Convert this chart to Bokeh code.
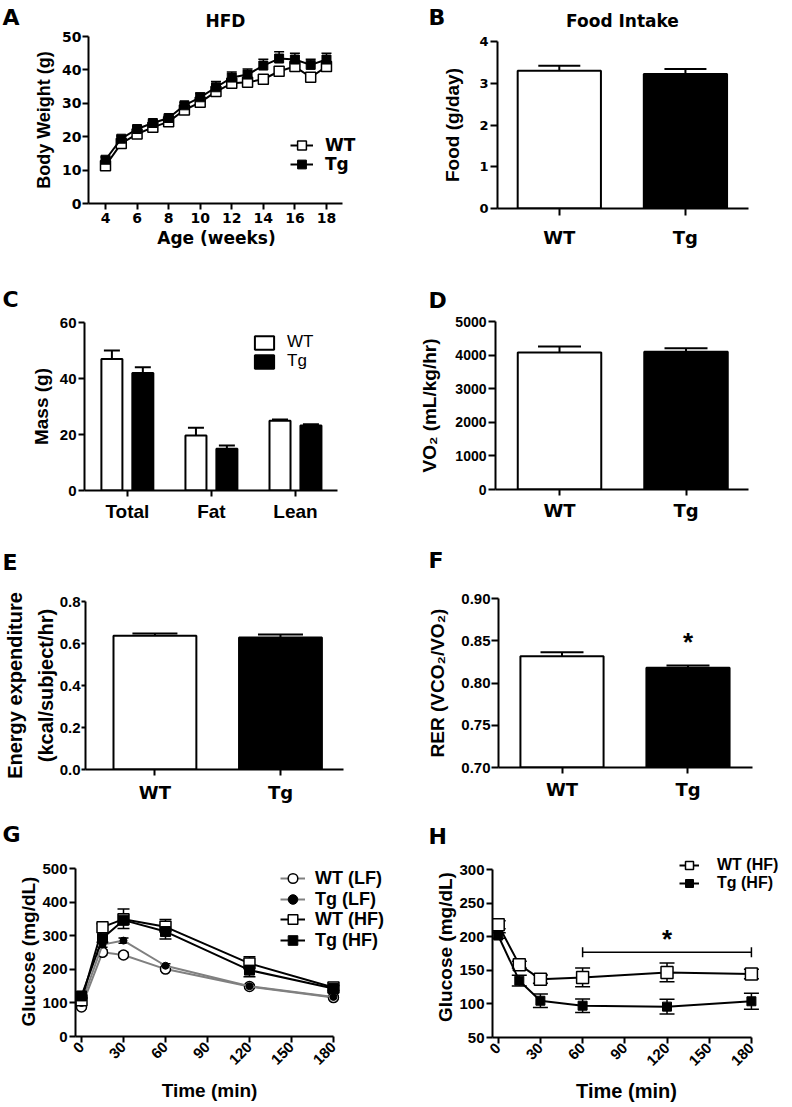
import math
import numpy as np
from bokeh.plotting import figure
from bokeh.layouts import column, row
from bokeh.models import (Range1d, Label, Legend, LegendItem, Whisker, TeeHead,
                          ColumnDataSource, FixedTicker, NumeralTickFormatter)
from bokeh.embed import file_html
from bokeh.resources import INLINE

LIB = "Liberation Sans"
DJV = "DejaVu Sans"

# ---------------- data ----------------
# A: body weight on HFD
ages = list(range(4, 19))
wt_bw = [11.3, 18.0, 20.8, 22.8, 24.5, 28.0, 30.3, 33.5, 36.0, 36.3, 37.2, 39.6, 41.0, 37.8, 41.0]
wt_bw_err = [0.8, 0.8, 0.8, 0.8, 0.8, 0.8, 0.8, 0.8, 0.7, 0.7, 1.5, 1.5, 0.7, 1.0, 0.7]
tg_bw = [13.1, 19.4, 22.3, 24.1, 25.6, 29.4, 31.8, 34.8, 37.7, 38.6, 41.3, 43.4, 43.1, 41.5, 43.1]
tg_bw_err = [0.8, 0.8, 0.8, 0.8, 0.8, 0.8, 1.3, 1.7, 1.7, 1.7, 1.9, 2.0, 1.9, 1.7, 1.9]

# B: food intake
genotypes = ["WT", "Tg"]
food = [3.30, 3.22]
food_err = [0.12, 0.12]

# C: body composition
comp_groups = ["Total", "Fat", "Lean"]
wt_mass = [47.0, 19.6, 24.9]
wt_mass_err = [3.0, 2.8, 0.5]
tg_mass = [42.0, 14.9, 23.2]
tg_mass_err = [2.0, 1.2, 0.5]

# D: VO2
vo2 = [4080, 4100]
vo2_err = [175, 105]

# E: energy expenditure
ee = [0.637, 0.629]
ee_err = [0.011, 0.014]

# F: RER
rer = [0.8317, 0.8180]
rer_err = [0.0048, 0.0027]

# G: GTT
time_g = [0, 15, 30, 60, 120, 180]
wt_lf = [88, 251, 243, 201, 149, 116]
wt_lf_err = [5, 8, 8, 6, 5, 5]
tg_lf = [100, 274, 286, 211, 150, 118]
tg_lf_err = [5, 8, 8, 6, 5, 5]
wt_hf = [108, 326, 350, 327, 218, 146]
wt_hf_err = [8, 10, 30, 22, 20, 6]
tg_hf = [121, 293, 347, 313, 198, 143]
tg_hf_err = [8, 12, 25, 22, 20, 6]

# H: ITT
time_h = [0, 15, 30, 60, 120, 180]
wt_itt = [218, 158.6, 137, 139.6, 147, 144.7]
wt_itt_err = [6, 5, 6, 14, 14, 7]
tg_itt = [202, 134.7, 104.8, 97.4, 96, 104]
tg_itt_err = [4, 8, 10, 10, 11, 12]
sig_start, sig_end, sig_level = 60, 180, 177


# ---------------- helpers ----------------
def no_align(p):
    if "frame_align" in p.properties():
        p.frame_align = False


def base_fig(w, h, bl, br, bt, bb, xr, yr, tick_font=LIB, tick_size="15px",
             ylab_size="19px", tick_out=6, mstand=2):
    p = figure(width=w, height=h, x_range=xr, y_range=yr,
               min_border_left=bl, min_border_right=br,
               min_border_top=bt, min_border_bottom=bb,
               output_backend="svg", toolbar_location=None, tools="")
    no_align(p)
    p.outline_line_color = None
    p.xgrid.visible = False
    p.ygrid.visible = False
    p.background_fill_color = "white"
    p.border_fill_color = "white"
    for ax in p.axis:
        ax.axis_line_width = 2
        ax.axis_line_color = "black"
        ax.major_tick_line_width = 2
        ax.major_tick_line_color = "black"
        ax.major_tick_in = 0
        ax.major_tick_out = tick_out
        ax.minor_tick_line_color = None
        ax.major_label_text_font = tick_font
        ax.major_label_text_font_style = "bold"
        ax.major_label_text_font_size = tick_size
        ax.major_label_text_color = "black"
        ax.major_label_standoff = mstand
        ax.axis_label_text_font = LIB
        ax.axis_label_text_font_style = "bold"
        ax.axis_label_text_font_size = ylab_size
        ax.axis_label_text_color = "black"
    return p


def text_strip(w, h, items):
    """Strip without axes that only carries text: (text, x, centre_from_top, font, size, align)."""
    p = figure(width=w, height=h, x_range=Range1d(0, w), y_range=Range1d(0, h),
               x_axis_type=None, y_axis_type=None, min_border=0,
               output_backend="svg", toolbar_location=None, tools="")
    no_align(p)
    p.outline_line_color = None
    p.background_fill_color = "white"
    p.border_fill_color = "white"
    for text, x, yc, font, size, align in items:
        p.add_layout(Label(x=x, y=h - yc, x_units="screen", y_units="screen", text=text,
                           text_font=font, text_font_size=size, text_font_style="bold",
                           text_align=align, text_baseline="middle", text_color="black"))
    return p


def add_text(p, text, x, y, size="26px", font=LIB):
    p.add_layout(Label(x=x, y=y, text=text, text_font=font, text_font_size=size,
                       text_font_style="bold", text_align="center",
                       text_baseline="alphabetic", text_color="black"))


def whisk(p, base, lo, hi, size, upper=True, lower=True, width=2, dim="height"):
    src = ColumnDataSource(dict(base=list(base), lo=list(lo), hi=list(hi)))
    w = Whisker(source=src, base="base", lower="lo", upper="hi", dimension=dim,
                line_color="black", line_width=width,
                upper_head=TeeHead(size=size, line_width=width, line_color="black") if upper else None,
                lower_head=TeeHead(size=size, line_width=width, line_color="black") if lower else None)
    p.add_layout(w)


def legend_entry(p, label, renderers, loc, font=LIB, size="18px", style="bold",
                 gw=24, gh=22, lh=22, standoff=8):
    leg = Legend(items=[LegendItem(label=label, renderers=renderers)], location=loc)
    leg.label_text_font = font
    leg.label_text_font_size = size
    leg.label_text_font_style = style
    leg.label_text_color = "black"
    leg.glyph_width = gw
    leg.glyph_height = gh
    leg.label_height = lh
    leg.spacing = 0
    leg.label_standoff = standoff
    leg.padding = 0
    leg.margin = 0
    leg.border_line_color = None
    leg.background_fill_alpha = 0
    p.add_layout(leg)


def add(a, b):
    return [x + y for x, y in zip(a, b)]


def sub(a, b):
    return [x - y for x, y in zip(a, b)]


def cat_axis(p, cats, standoff, font=DJV, size="18px"):
    p.xaxis.ticker = FixedTicker(ticks=list(range(len(cats))))
    p.xaxis.major_label_overrides = {i: c for i, c in enumerate(cats)}
    p.xaxis.major_label_text_font = font
    p.xaxis.major_label_text_font_size = size
    p.xaxis.major_label_standoff = standoff
    p.xaxis.major_tick_out = 6


def bar_pair(p, vals, errs, cap):
    xs = list(range(len(vals)))
    p.vbar(x=xs, top=vals, width=0.66, bottom=0, fill_color=["white", "black"],
           line_color="black", line_width=2)
    whisk(p, xs, vals, add(vals, errs), cap, upper=True, lower=False)


LET = "22px"

# ---------------- Panel A ----------------
hA = text_strip(400, 30, [("A", 2, 17, DJV, LET, "left"),
                          ("HFD", 225, 20.5, DJV, "17px", "center")])
pA = base_fig(400, 199, 88, 0, 6, 26, Range1d(2.923, 22.69), Range1d(0, 50),
              tick_font=DJV, tick_size="14px", ylab_size="18px", mstand=1)
pA.xaxis.ticker = FixedTicker(ticks=list(range(4, 19, 2)))
pA.xaxis.bounds = (2.923, 19.0)
pA.xaxis.major_label_standoff = 3
pA.yaxis.ticker = FixedTicker(ticks=[0, 10, 20, 30, 40, 50])
pA.yaxis.axis_label = "Body Weight (g)"
pA.yaxis.axis_label_standoff = 5
whisk(pA, ages, sub(wt_bw, wt_bw_err), wt_bw, 10, upper=False, lower=True, width=1.5)
whisk(pA, ages, tg_bw, add(tg_bw, tg_bw_err), 10, upper=True, lower=False, width=1.5)
lA1 = pA.line(ages, wt_bw, line_color="black", line_width=2)
sA1 = pA.scatter(ages, wt_bw, marker="square", size=10, fill_color="white",
                 line_color="black", line_width=1.5)
lA2 = pA.line(ages, tg_bw, line_color="black", line_width=2)
sA2 = pA.scatter(ages, tg_bw, marker="square", size=9, fill_color="black",
                 line_color="black", line_width=1)
legend_entry(pA, "WT", [lA1, sA1], (202, 47), font=DJV, size="17px", gw=23, standoff=12)
legend_entry(pA, "Tg", [lA2, sA2], (202, 28), font=DJV, size="17px", gw=23, standoff=12)
fA = text_strip(400, 26, [("Age (weeks)", 216, 8, DJV, "17px", "center")])

# ---------------- Panel B ----------------
hB = text_strip(392, 30, [("B", 28, 17, DJV, LET, "left"),
                          ("Food Intake", 222, 20.5, DJV, "17px", "center")])
pB = base_fig(392, 225, 97, 44, 11, 47, Range1d(-0.49, 1.5), Range1d(0, 4),
              tick_font=DJV, tick_size="13px", tick_out=7)
pB.yaxis.ticker = FixedTicker(ticks=[0, 1, 2, 3, 4])
cat_axis(pB, genotypes, 11)
pB.xaxis.major_tick_out = 7
pB.yaxis.axis_label = "Food (g/day)"
pB.yaxis.axis_label_standoff = 13
bar_pair(pB, food, food_err, 42)

# ---------------- Panel C ----------------
hC = text_strip(400, 58, [("C", 2, 44, DJV, LET, "left")])
pC = base_fig(400, 222, 84, 63, 9, 45, Range1d(-0.51, 2.5), Range1d(0, 60))
pC.yaxis.ticker = FixedTicker(ticks=[0, 20, 40, 60])
cat_axis(pC, comp_groups, 4, font=LIB, size="19px")
pC.yaxis.axis_label = "Mass (g)"
pC.yaxis.axis_label_standoff = 5
xc = np.arange(len(comp_groups))
bC1 = pC.vbar(x=xc - 0.184, top=wt_mass, width=0.25, fill_color="white",
              line_color="black", line_width=2)
bC2 = pC.vbar(x=xc + 0.184, top=tg_mass, width=0.25, fill_color="black",
              line_color="black", line_width=2)
whisk(pC, xc - 0.184, wt_mass, add(wt_mass, wt_mass_err), 16, upper=True, lower=False)
whisk(pC, xc + 0.184, tg_mass, add(tg_mass, tg_mass_err), 16, upper=True, lower=False)
legend_entry(pC, "WT", [bC1], (168, 138), size="17px", style="normal", gw=24, gh=17, lh=17, standoff=11)
legend_entry(pC, "Tg", [bC2], (168, 119), size="17px", style="normal", gw=24, gh=17, lh=17, standoff=11)

# ---------------- Panel D ----------------
hD = text_strip(392, 58, [("D", 28, 45, DJV, LET, "left")])
pD = base_fig(392, 222, 95, 44, 8, 46, Range1d(-0.506, 1.494), Range1d(0, 5000),
              tick_size="14px", tick_out=7)
pD.yaxis.ticker = FixedTicker(ticks=[0, 1000, 2000, 3000, 4000, 5000])
cat_axis(pD, genotypes, 4)
pD.yaxis.axis_label = "VO\u2082 (mL/kg/hr)"
pD.yaxis.axis_label_standoff = 12
bar_pair(pD, vo2, vo2_err, 43)

# ---------------- Panel E ----------------
hE = text_strip(400, 45, [("E", 2, 26.5, DJV, LET, "left")])
pE = base_fig(400, 235, 83, 57, 21, 46, Range1d(-0.553, 1.502), Range1d(0, 0.8),
              ylab_size="20px", tick_out=4, mstand=1)
pE.yaxis.ticker = FixedTicker(ticks=[0, 0.2, 0.4, 0.6, 0.8])
pE.yaxis.formatter = NumeralTickFormatter(format="0.0")
cat_axis(pE, genotypes, 6)
pE.yaxis.axis_label = "Energy expenditure\n(kcal/subject/hr)"
pE.yaxis.axis_label_text_line_height = 1.4
pE.yaxis.axis_label_standoff = 0
bar_pair(pE, ee, ee_err, 45)

# ---------------- Panel F ----------------
hF = text_strip(392, 45, [("F", 28, 25, DJV, LET, "left")])
pF = base_fig(392, 235, 98, 40, 18, 48, Range1d(-0.504, 1.512), Range1d(0.70, 0.90),
              tick_out=7, mstand=1)
pF.yaxis.ticker = FixedTicker(ticks=[0.70, 0.75, 0.80, 0.85, 0.90])
pF.yaxis.formatter = NumeralTickFormatter(format="0.00")
cat_axis(pF, genotypes, 5)
pF.yaxis.axis_label = "RER (VCO\u2082/VO\u2082)"
pF.yaxis.axis_label_standoff = 10
bar_pair(pF, rer, rer_err, 43)
add_text(pF, "*", 1, 0.848)

# ---------------- Panel G ----------------
hG = text_strip(400, 35, [("G", 2, 19, DJV, LET, "left")])
pG = base_fig(400, 230, 75, 0, 16, 44, Range1d(-4.29, 227.9), Range1d(0, 507))
pG.xaxis.ticker = FixedTicker(ticks=[0, 30, 60, 90, 120, 150, 180])
pG.yaxis.ticker = FixedTicker(ticks=[0, 100, 200, 300, 400, 500])
pG.xaxis.bounds = (-4.29, 180)
pG.yaxis.bounds = (0, 500)
pG.xaxis.major_label_orientation = math.pi / 4
pG.yaxis.axis_label = "Glucose (mg/dL)"
pG.yaxis.axis_label_standoff = 0
GRAY = "#808080"
whisk(pG, time_g, sub(wt_lf, wt_lf_err), add(wt_lf, wt_lf_err), 10, width=1.5)
whisk(pG, time_g, sub(tg_lf, tg_lf_err), add(tg_lf, tg_lf_err), 10, width=1.5)
whisk(pG, time_g, wt_hf, add(wt_hf, wt_hf_err), 12, upper=True, lower=False, width=1.5)
whisk(pG, time_g, sub(tg_hf, tg_hf_err), tg_hf, 12, upper=False, lower=True, width=1.5)
lG1 = pG.line(time_g, wt_lf, line_color=GRAY, line_width=2)
sG1 = pG.scatter(time_g, wt_lf, marker="circle", size=10, fill_color="white",
                 line_color="black", line_width=1.5)
lG2 = pG.line(time_g, tg_lf, line_color=GRAY, line_width=2)
sG2 = pG.scatter(time_g, tg_lf, marker="circle", size=7, fill_color="black",
                 line_color="black", line_width=1)
lG3 = pG.line(time_g, wt_hf, line_color="black", line_width=2)
sG3 = pG.scatter(time_g, wt_hf, marker="square", size=11, fill_color="white",
                 line_color="black", line_width=1.5)
lG4 = pG.line(time_g, tg_hf, line_color="black", line_width=2)
sG4 = pG.scatter(time_g, tg_hf, marker="square", size=10, fill_color="black",
                 line_color="black", line_width=1)
legend_entry(pG, "WT (LF)", [lG1, sG1], (205, 146), size="18px", gw=25, gh=24, lh=24, standoff=10)
legend_entry(pG, "Tg (LF)", [lG2, sG2], (205, 125), size="18px", gw=25, gh=24, lh=24, standoff=10)
legend_entry(pG, "WT (HF)", [lG3, sG3], (205, 105), size="18px", gw=25, gh=24, lh=24, standoff=10)
legend_entry(pG, "Tg (HF)", [lG4, sG4], (205, 84), size="18px", gw=25, gh=24, lh=24, standoff=10)
fG = text_strip(400, 27, [("Time (min)", 209, 10, LIB, "19px", "center")])

# ---------------- Panel H ----------------
hH = text_strip(392, 35, [("H", 28, 21, DJV, LET, "left")])
pH = base_fig(392, 230, 92, 0, 6, 43, Range1d(-4.05, 209.2), Range1d(50, 319.8))
pH.xaxis.ticker = FixedTicker(ticks=[0, 30, 60, 90, 120, 150, 180])
pH.yaxis.ticker = FixedTicker(ticks=[50, 100, 150, 200, 250, 300])
pH.xaxis.bounds = (-4.05, 180)
pH.yaxis.bounds = (50, 300)
pH.xaxis.major_label_orientation = math.pi / 4
pH.yaxis.axis_label = "Glucose (mg/dL)"
pH.yaxis.axis_label_standoff = 0
whisk(pH, time_h, sub(wt_itt, wt_itt_err), add(wt_itt, wt_itt_err), 15, width=1.5)
whisk(pH, time_h, sub(tg_itt, tg_itt_err), add(tg_itt, tg_itt_err), 15, width=1.5)
lH1 = pH.line(time_h, wt_itt, line_color="black", line_width=2)
sH1 = pH.scatter(time_h, wt_itt, marker="square", size=12, fill_color="white",
                 line_color="black", line_width=1.5)
lH2 = pH.line(time_h, tg_itt, line_color="black", line_width=2)
sH2 = pH.scatter(time_h, tg_itt, marker="square", size=9, fill_color="black",
                 line_color="black", line_width=1)
whisk(pH, [sig_level], [sig_start], [sig_end], 10, dim="width", width=1.5)
add_text(pH, "*", (sig_start + sig_end) / 2, 197)
legend_entry(pH, "WT (HF)", [lH1, sH1], (187, 161), size="16px", gw=20, gh=22, lh=22, standoff=18)
legend_entry(pH, "Tg (HF)", [lH2, sH2], (187, 143), size="16px", gw=20, gh=22, lh=22, standoff=18)
fH = text_strip(392, 27, [("Time (min)", 226, 10, LIB, "20px", "center")])

layout = column(
    row(column(hA, pA, fA), column(hB, pB)),
    row(column(hC, pC), column(hD, pD)),
    row(column(hE, pE), column(hF, pF)),
    row(column(hG, pG, fG), column(hH, pH, fH)),
)

open("out.html", "w").write(file_html(layout, INLINE))
